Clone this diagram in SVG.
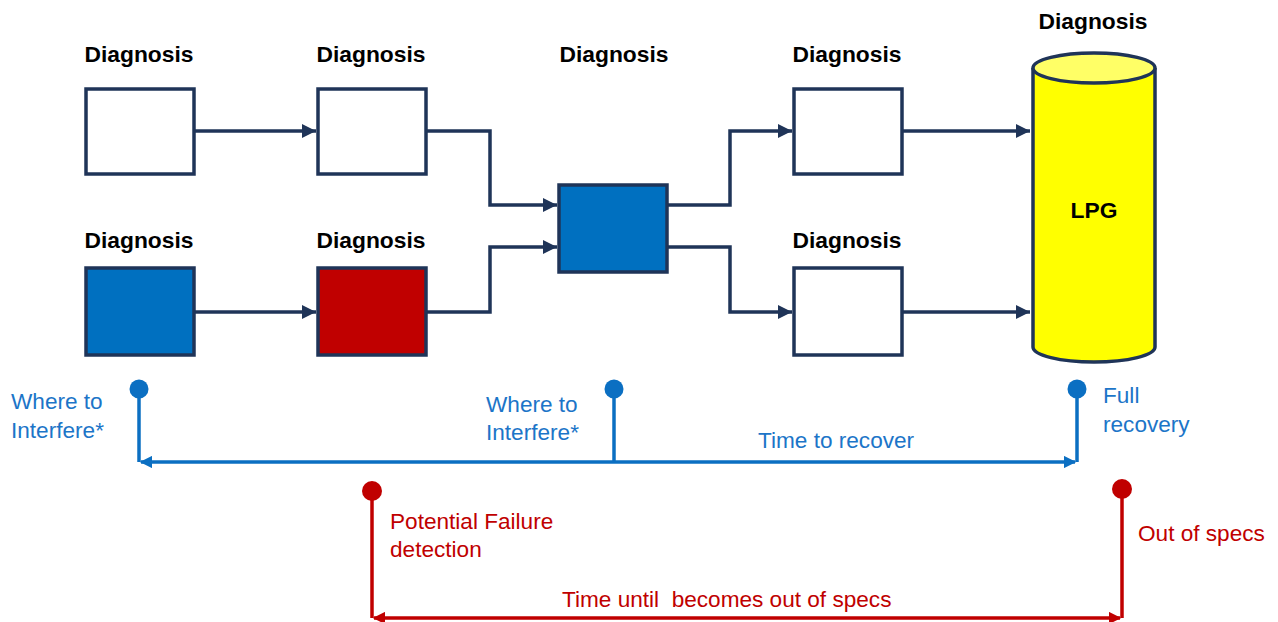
<svg xmlns="http://www.w3.org/2000/svg" width="1278" height="622" viewBox="0 0 1278 622">
<style>
.lbl{font-family:"Liberation Sans",Arial,sans-serif;font-size:22.8px;font-weight:bold;fill:#000;text-anchor:middle}
.box{stroke:#1F3458;stroke-width:3.5}
.con{fill:none;stroke:#1F3458;stroke-width:3.5}
.bt{font-family:"Liberation Sans",Arial,sans-serif;font-size:22.6px;fill:#1C75C8}
.rt{font-family:"Liberation Sans",Arial,sans-serif;font-size:22.6px;fill:#C00000}
.bl{fill:none;stroke:#0B6FC2;stroke-width:3.5}
.rl{fill:none;stroke:#C00000;stroke-width:3.5}
</style>
<defs>
<marker id="an" viewBox="0 0 10 10" refX="10" refY="5" markerWidth="4" markerHeight="4" orient="auto" markerUnits="strokeWidth"><path d="M0,0 L10,5 L0,10 z" fill="#1F3458"/></marker>
<marker id="ab" viewBox="0 0 10 10" refX="9" refY="5" markerWidth="4" markerHeight="3.5" orient="auto-start-reverse" markerUnits="strokeWidth"><path d="M0,0 L10,5 L0,10 z" fill="#0B6FC2"/></marker>
<marker id="ar" viewBox="0 0 10 10" refX="9" refY="5" markerWidth="4" markerHeight="3.5" orient="auto-start-reverse" markerUnits="strokeWidth"><path d="M0,0 L10,5 L0,10 z" fill="#C00000"/></marker>
</defs>
<rect width="1278" height="622" fill="#fff"/>
<g id="connectors">
<path class="con" d="M194,131 H316" marker-end="url(#an)"/>
<path class="con" d="M426,131 H490 V205 H557" marker-end="url(#an)"/>
<path class="con" d="M194,312 H316" marker-end="url(#an)"/>
<path class="con" d="M426,312 H490 V247 H557" marker-end="url(#an)"/>
<path class="con" d="M667,205 H730 V131 H792" marker-end="url(#an)"/>
<path class="con" d="M667,247 H730 V312 H792" marker-end="url(#an)"/>
<path class="con" d="M902,131 H1030" marker-end="url(#an)"/>
<path class="con" d="M902,312 H1030" marker-end="url(#an)"/>
</g>
<g id="n1"><text class="lbl" x="139" y="62">Diagnosis</text><rect class="box" x="86" y="89" width="108" height="85" fill="#fff"/></g>
<g id="n2"><text class="lbl" x="371" y="62">Diagnosis</text><rect class="box" x="318" y="89" width="108" height="85" fill="#fff"/></g>
<g id="n3"><text class="lbl" x="139" y="248">Diagnosis</text><rect class="box" x="86" y="268" width="108" height="87" fill="#0070C0"/></g>
<g id="n4"><text class="lbl" x="371" y="248">Diagnosis</text><rect class="box" x="318" y="268" width="108" height="87" fill="#C00000"/></g>
<g id="n5"><text class="lbl" x="614" y="62">Diagnosis</text><rect class="box" x="559" y="185" width="108" height="87" fill="#0070C0"/></g>
<g id="n6"><text class="lbl" x="847" y="62">Diagnosis</text><rect class="box" x="794" y="89" width="108" height="85" fill="#fff"/></g>
<g id="n7"><text class="lbl" x="847" y="248">Diagnosis</text><rect class="box" x="794" y="268" width="108" height="87" fill="#fff"/></g>
<g id="lpg">
<text class="lbl" x="1093" y="29">Diagnosis</text>
<path class="box" d="M1033,68 V347 A61,15 0 0 0 1155,347 V68" fill="#FFFF00"/>
<ellipse class="box" cx="1094" cy="68" rx="61" ry="15" fill="#FFFF66"/>
<text class="lbl" x="1094" y="218">LPG</text>
</g>
<g id="blue-timeline">
<path class="bl" d="M139,389 V462"/>
<path class="bl" d="M614,389 V462"/>
<path class="bl" d="M1077,389 V462"/>
<path class="bl" d="M141,462 H1075" marker-start="url(#ab)" marker-end="url(#ab)"/>
<circle cx="139" cy="389" r="9.5" fill="#0B6FC2"/>
<circle cx="614" cy="389" r="9.5" fill="#0B6FC2"/>
<circle cx="1077" cy="389" r="9.5" fill="#0B6FC2"/>
<text class="bt" x="11" y="409">Where to</text>
<text class="bt" x="11" y="438">Interfere*</text>
<text class="bt" x="486" y="412">Where to</text>
<text class="bt" x="486" y="440">Interfere*</text>
<text class="bt" x="758" y="448">Time to recover</text>
<text class="bt" x="1103" y="403">Full</text>
<text class="bt" x="1103" y="432">recovery</text>
</g>
<g id="red-timeline">
<path class="rl" d="M372,491 V618"/>
<path class="rl" d="M1122,489 V618"/>
<path class="rl" d="M374,618 H1120" marker-start="url(#ar)" marker-end="url(#ar)"/>
<circle cx="372" cy="491" r="10" fill="#C00000"/>
<circle cx="1122" cy="489" r="10" fill="#C00000"/>
<text class="rt" x="390" y="529">Potential Failure</text>
<text class="rt" x="390" y="557">detection</text>
<text class="rt" x="1138" y="541">Out of specs</text>
<text class="rt" x="562" y="607" xml:space="preserve">Time until  becomes out of specs</text>
</g>
</svg>
